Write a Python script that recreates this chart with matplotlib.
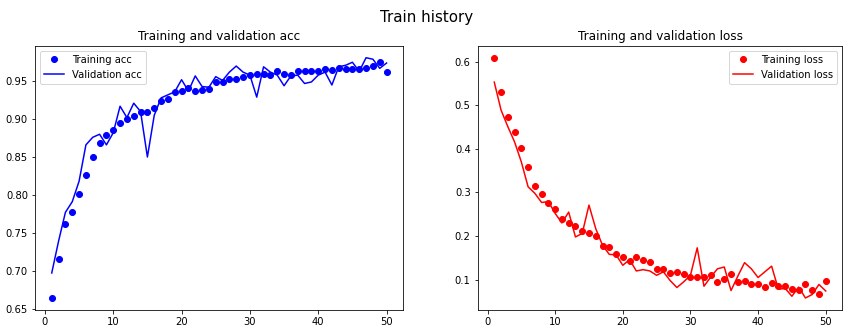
import matplotlib
matplotlib.use("Agg")
import matplotlib.pyplot as plt

epochs = list(range(1, 51))

acc = [0.664, 0.715, 0.761, 0.777, 0.801, 0.826, 0.850, 0.869, 0.879, 0.886,
       0.895, 0.900, 0.904, 0.909, 0.910, 0.914, 0.924, 0.927, 0.936, 0.937,
       0.941, 0.937, 0.939, 0.940, 0.949, 0.949, 0.953, 0.953, 0.955, 0.958,
       0.959, 0.959, 0.958, 0.963, 0.960, 0.958, 0.964, 0.964, 0.964, 0.963,
       0.966, 0.965, 0.968, 0.966, 0.966, 0.966, 0.967, 0.970, 0.975, 0.962]
val_acc = [0.697, 0.739, 0.777, 0.791, 0.818, 0.866, 0.876, 0.880, 0.866, 0.882,
           0.917, 0.902, 0.921, 0.910, 0.850, 0.905, 0.928, 0.932, 0.936, 0.952,
           0.937, 0.957, 0.943, 0.942, 0.956, 0.951, 0.962, 0.970, 0.962, 0.958,
           0.929, 0.969, 0.962, 0.958, 0.944, 0.957, 0.958, 0.947, 0.949, 0.958,
           0.962, 0.945, 0.969, 0.971, 0.975, 0.963, 0.981, 0.979, 0.967, 0.974]
loss = [0.609, 0.531, 0.472, 0.439, 0.402, 0.359, 0.315, 0.296, 0.275, 0.263,
        0.240, 0.230, 0.222, 0.211, 0.207, 0.200, 0.178, 0.176, 0.158, 0.151,
        0.143, 0.151, 0.144, 0.140, 0.124, 0.124, 0.115, 0.118, 0.114, 0.106,
        0.106, 0.105, 0.110, 0.095, 0.102, 0.112, 0.095, 0.097, 0.091, 0.089,
        0.083, 0.092, 0.085, 0.086, 0.079, 0.077, 0.089, 0.077, 0.068, 0.096]
val_loss = [0.553, 0.489, 0.451, 0.416, 0.370, 0.313, 0.298, 0.277, 0.279, 0.252,
            0.230, 0.255, 0.198, 0.206, 0.271, 0.217, 0.179, 0.158, 0.157, 0.133,
            0.146, 0.120, 0.123, 0.120, 0.110, 0.118, 0.098, 0.082, 0.095, 0.110,
            0.173, 0.085, 0.106, 0.125, 0.129, 0.075, 0.108, 0.139, 0.125, 0.105,
            0.118, 0.131, 0.078, 0.080, 0.062, 0.083, 0.058, 0.066, 0.089, 0.074]

fig, (ax1, ax2) = plt.subplots(1, 2, figsize=(843 / 72, 328 / 72), dpi=72)
fig.suptitle("Train history", fontsize=15, x=0.506, y=0.97)

ax1.plot(epochs, acc, "bo", label="Training acc")
ax1.plot(epochs, val_acc, "b", label="Validation acc")
ax1.set_title("Training and validation acc")
ax1.legend()

ax2.plot(epochs, loss, "ro", label="Training loss")
ax2.plot(epochs, val_loss, "r", label="Validation loss")
ax2.set_title("Training and validation loss")
ax2.legend()

W, H = 843.0, 328.0
ax1.set_position([35 / W, 1 - 310 / H, 368.3 / W, 264.3 / H])
ax2.set_position([477.7 / W, 1 - 310 / H, 364.6 / W, 264.3 / H])

fig.savefig("out.png", dpi=72)
